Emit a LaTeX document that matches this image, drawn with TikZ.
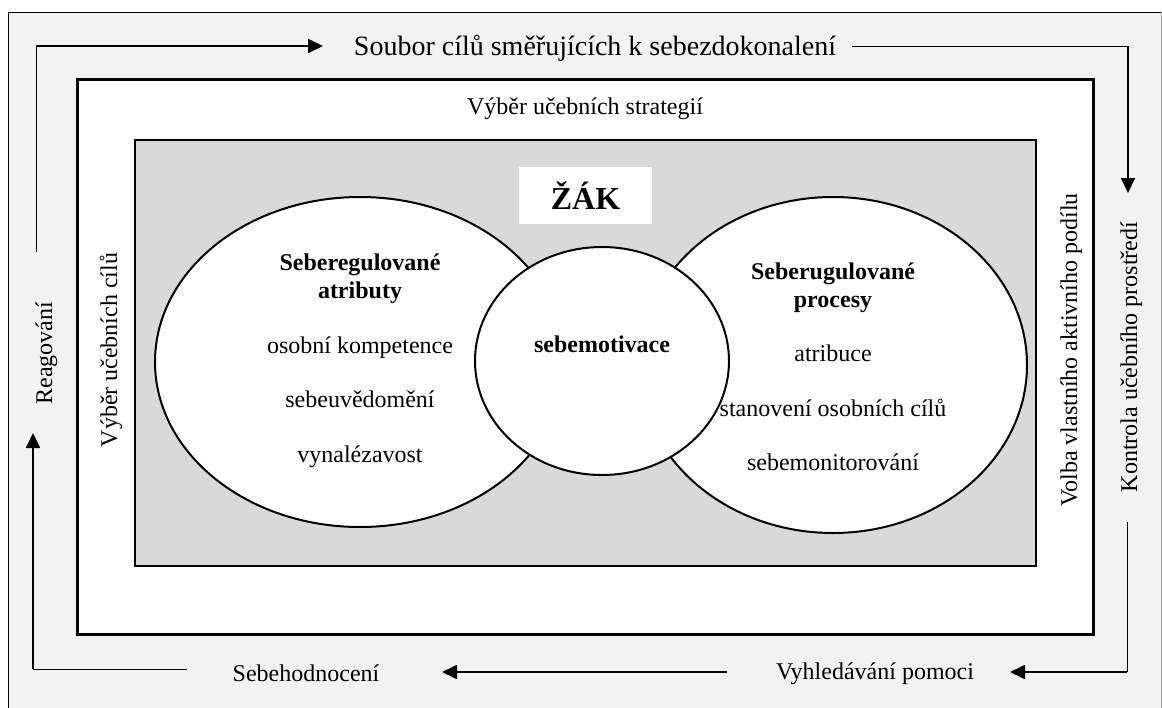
\documentclass[tikz,border=0pt]{standalone}
\usepackage{fontspec}
\setmainfont{Liberation Serif}
\usetikzlibrary{arrows.meta,shapes.geometric}
\definecolor{outerfill}{HTML}{F2F2F2}
\definecolor{innerfill}{HTML}{D9D9D9}
\definecolor{edgegray}{HTML}{A0A0A0}
\begin{document}
\begin{tikzpicture}[x=1pt,y=-1pt,
  txt/.style={font=\fontsize{24}{28}\selectfont, inner sep=0pt, anchor=base},
  btxt/.style={txt, font=\fontsize{24}{28}\selectfont\bfseries},
  vtxt/.style={txt, rotate=90},
  arr/.style={line width=1.8pt, -{Triangle[length=15pt,width=14pt]}},
  plainln/.style={line width=1pt},
  oval/.style={ellipse, draw, line width=2pt, fill=white, inner sep=0pt}]
\useasboundingbox (0,0) rectangle (1162,707);
% frames
\draw[fill=outerfill, line width=1pt] (8,12) rectangle (1161,720);
\draw[edgegray, line width=1pt] (1161,12) -- (1161,720);
\draw[fill=white, line width=3pt] (77,79) rectangle (1093,634);
\draw[fill=innerfill, line width=2.5pt] (135,140) rectangle (1036,566);
% ellipses
\node[oval, minimum width=410pt, minimum height=330pt] (left) at (360,362) {};
\node[oval, minimum width=388pt, minimum height=336pt] (right) at (833,365) {};
\node[oval, minimum width=254pt, minimum height=228pt] (mid) at (602,361) {};
% ZAK
\node[fill=white, minimum width=133pt, minimum height=57pt, inner sep=0pt] (zakbox) at (585.5,195.5) {};
\node[txt, font=\fontsize{32}{36}\selectfont\bfseries] (zak) at (585.5,209) {ŽÁK};
% texts in ellipses
\node[btxt] (l1) at (360,270) {Seberegulované};
\node[btxt] (l2) at (360,298) {atributy};
\node[txt] (l3) at (360,353) {osobní kompetence};
\node[txt] (l4) at (360,407) {sebeuvědomění};
\node[txt] (l5) at (360,462) {vynalézavost};
\node[btxt] (r1) at (833,279) {Seberugulované};
\node[btxt] (r2) at (833,307) {procesy};
\node[txt] (r3) at (833,361) {atribuce};
\node[txt] (r4) at (833,416) {stanovení osobních cílů};
\node[txt] (r5) at (833,470) {sebemonitorování};
\node[btxt] (m1) at (602,352) {sebemotivace};
% frame texts
\node[txt, font=\fontsize{28}{32}\selectfont] (top) at (595,55) {Soubor cílů směřujících k sebezdokonalení};
\node[txt] (strat) at (585,114) {Výběr učebních strategií};
\node[vtxt] (cile) at (117,350) {Výběr učebních cílů};
\node[vtxt] (reag) at (52,353) {Reagování};
\node[vtxt] (volba) at (1077,350) {Volba vlastního aktivního podílu};
\node[vtxt] (kontr) at (1137,357) {Kontrola učebního prostředí};
\node[txt] (hodn) at (306,681) {Sebehodnocení};
\node[txt] (pomoc) at (875,679) {Vyhledávání pomoci};
% connector coordinates
\coordinate (a1) at (36,252);
\coordinate (a2) at (36,46);
\coordinate (a3) at (323,46);
\coordinate (b1) at (852,46);
\coordinate (b2) at (1128,46);
\coordinate (b3) at (1128,193);
\coordinate (c1) at (1127,522);
\coordinate (c2) at (1127,672);
\coordinate (c3) at (1010,672);
\coordinate (d1) at (727,672);
\coordinate (d2) at (442,672);
\coordinate (e1) at (187,669);
\coordinate (e2) at (33,669);
\coordinate (e3) at (33,433);
% connectors
\draw[plainln] (a1) -- (a2);
\draw[arr] (a2) -- (a3);
\draw[plainln] (b1) -- (b2);
\draw[arr] (b2) -- (b3);
\draw[plainln] (c1) -- (c2);
\draw[arr] (c2) -- (c3);
\draw[arr] (d1) -- (d2);
\draw[plainln] (e1) -- (e2);
\draw[arr] (e2) -- (e3);
\end{tikzpicture}
\end{document}
